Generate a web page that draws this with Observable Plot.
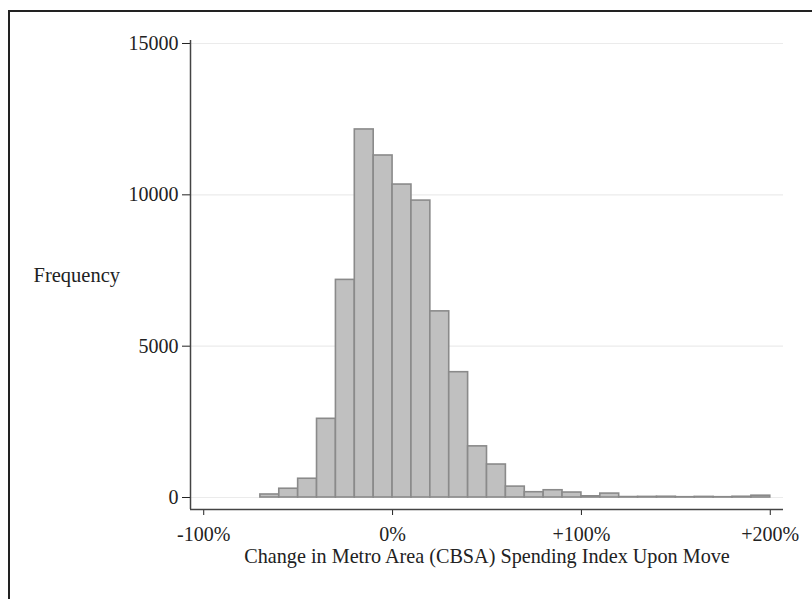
<!DOCTYPE html>
<html><head><meta charset="utf-8">
<script src="https://cdn.jsdelivr.net/npm/d3@7"></script>
<script src="https://cdn.jsdelivr.net/npm/@observablehq/plot@0.6"></script>
<style>
body{margin:0;background:#fff;}
#wrap{position:relative;width:812px;height:599px;overflow:hidden;background:#fff;}
#frame{position:absolute;left:8px;top:10px;width:900px;height:700px;border-top:2px solid #222;border-left:2px solid #222;pointer-events:none;}
svg{display:block;}
</style></head><body><div id="wrap"></div>
<script>
// Histogram bins (lower edge, in % change) and counts
const binStart = [-70,-60,-50,-40,-30,-20,-10,0,10,20,30,40,50,60,70,80,90,100,110,120,130,140,150,160,170,180,190];
const binWidth = 10;
const counts = [100,290,620,2600,7190,12160,11300,10340,9810,6150,4140,1690,1090,360,175,240,165,40,130,15,20,25,10,20,10,25,60];
const xTicks = [-100,0,100,200];
const xTickLabels = ["-100%","0%","+100%","+200%"];
const yTicks = [0,5000,10000,15000];
const yLabel = "Frequency";
const xLabel = "Change in Metro Area (CBSA) Spending Index Upon Move";

const data = binStart.map((s,i)=>({x1:s,x2:s+binWidth,count:counts[i]}));
const xDomain=[-107,207], yDomain=[-396,15099];
const chart = Plot.plot({
  width:812,height:599,marginLeft:190,marginRight:29,marginTop:40,marginBottom:90,
  style:{fontFamily:"'Liberation Serif', 'Times New Roman', serif", fontSize:"20px", color:"#222", background:"transparent"},
  x:{domain:xDomain}, y:{domain:yDomain},
  marks:[
    Plot.gridY(yTicks,{stroke:"#ebebeb",strokeOpacity:1,strokeWidth:1.2}),
    Plot.rectY(data,{x1:"x1",x2:"x2",y:"count",fill:"#c0c0c0",stroke:"#8a8a8a",strokeWidth:1.6}),
    Plot.axisY(yTicks,{tickSize:8,tickPadding:4,tickFormat:d=>String(d),label:null,fontSize:20}),
    Plot.axisX(xTicks,{tickSize:6,tickPadding:11,tickFormat:d=>xTickLabels[xTicks.indexOf(d)],label:null,fontSize:20}),
    Plot.ruleX([xDomain[0]],{stroke:"#444",strokeWidth:1.5}),
    Plot.ruleY([yDomain[0]],{stroke:"#444",strokeWidth:1.5}),
    Plot.text([yLabel],{frameAnchor:"left",dx:-157,textAnchor:"start",text:d=>d,fontSize:20.5}),
    Plot.text([xLabel],{frameAnchor:"bottom",dy:53,text:d=>d,fontSize:20.2})
  ]
});
const wrap=document.getElementById("wrap");
wrap.appendChild(chart);
const fr=document.createElement("div");fr.id="frame";wrap.appendChild(fr);
</script></body></html>
